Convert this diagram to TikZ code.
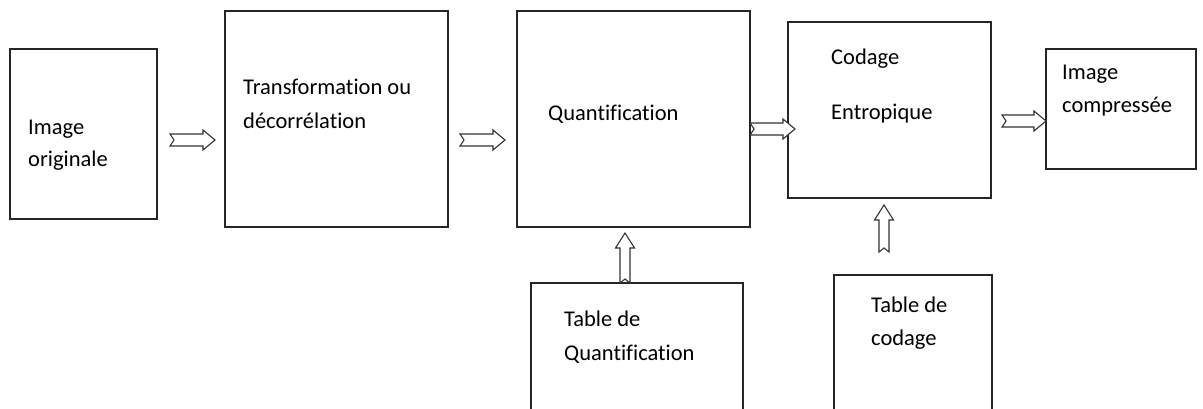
\documentclass[tikz,border=0pt]{standalone}
\usepackage{fontspec}
\setmainfont{Carlito}[Ligatures={NoCommon}]
\usetikzlibrary{calc}
\begin{document}
\begin{tikzpicture}[x=1pt,y=1pt,
  box/.style={draw=black!85,line width=1.6pt,inner sep=0pt},
  lbl/.style={anchor=base west,inner sep=0pt,font=\fontsize{22.5}{26}\selectfont,text=black},
  notchR/.style={draw=black!80,line width=1.1pt,fill=white,line join=miter,
    to path={let \p1=(\tikztostart), \p2=(\tikztotarget) in
      (\x1,\y1-6) -- (\x2-12,\y1-6) -- (\x2-12,\y1-10) -- (\x2,\y1) -- (\x2-12,\y1+10)
      -- (\x2-12,\y1+6) -- (\x1,\y1+6) -- (\x1+4,\y1) -- cycle}},
  notchU/.style={draw=black!80,line width=1.1pt,fill=white,line join=miter,
    to path={let \p1=(\tikztostart), \p2=(\tikztotarget) in
      (\x1-5,\y1) -- (\x1-5,\y2-15) -- (\x1-9.5,\y2-15) -- (\x1,\y2) -- (\x1+9.5,\y2-15)
      -- (\x1+5,\y2-15) -- (\x1+5,\y1) -- (\x1,\y1+4) -- cycle}}]
\useasboundingbox (0,0) rectangle (1203,-409);
\clip (0,0) rectangle (1203,-409);
% boxes
\node[box,minimum width=147pt,minimum height=170pt] (img) at (83.5,-134) {};
\node[box,minimum width=223pt,minimum height=216pt] (tr) at (336.5,-119) {};
\node[box,minimum width=233pt,minimum height=216pt] (qu) at (633.5,-119) {};
\node[box,minimum width=203pt,minimum height=176pt] (co) at (889.5,-110) {};
\node[box,minimum width=150pt,minimum height=120pt] (ic) at (1121,-109) {};
\node[box,minimum width=212pt,minimum height=160pt] (tq) at (637,-363) {};
\node[box,minimum width=158pt,minimum height=168pt] (tc) at (913,-359) {};
% texts
\node[lbl] (t1) at (28,-135) {Image};
\node[lbl] (t2) at (28,-167) {originale};
\node[lbl] (t3) at (243,-95) {Transformation ou};
\node[lbl] (t4) at (243,-129) {décorrélation};
\node[lbl] (t5) at (548,-121) {Quantification};
\node[lbl] (t6) at (831,-65) {Codage};
\node[lbl] (t7) at (831,-120) {Entropique};
\node[lbl] (t8) at (1062,-80) {Image};
\node[lbl] (t9) at (1062,-113) {compressée};
\node[lbl] (t10) at (564,-326) {Table de};
\node[lbl] (t11) at (564,-360) {Quantification};
\node[lbl] (t12) at (871,-312) {Table de};
\node[lbl] (t13) at (871,-345) {codage};
% arrow ends
\coordinate (a1s) at (170,-140); \coordinate (a1e) at (215,-140);
\coordinate (a2s) at (460,-140); \coordinate (a2e) at (505,-140);
\coordinate (a3s) at (750,-129); \coordinate (a3e) at (795,-129);
\coordinate (a4s) at (1002,-121); \coordinate (a4e) at (1046,-121);
\coordinate (a5s) at (625,-283); \coordinate (a5e) at (625,-233);
\coordinate (a6s) at (884,-252); \coordinate (a6e) at (884,-205);
\draw[notchR] (a1s) to (a1e);
\draw[notchR] (a2s) to (a2e);
\draw[notchR] (a3s) to (a3e);
\draw[notchR] (a4s) to (a4e);
\draw[notchU] (a5s) to (a5e);
\draw[notchU] (a6s) to (a6e);
\end{tikzpicture}
\end{document}
